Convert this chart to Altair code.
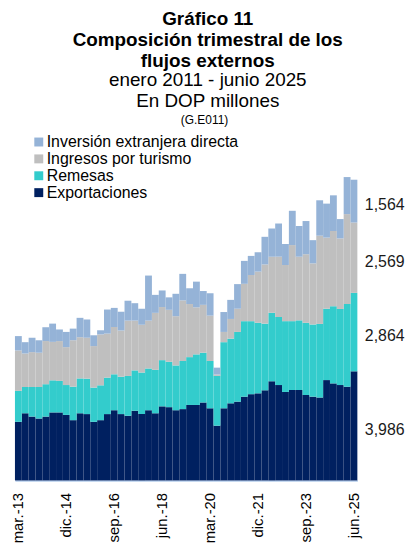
import altair as alt
import pandas as pd

# Quarter labels (mar.-13 ... jun.-25)
meses = ["mar.", "jun.", "sep.", "dic."]
trimestres = [f"{meses[i % 4]}-{13 + i // 4:02d}" for i in range(50)]
etiquetas_eje = [trimestres[i] for i in range(0, 50, 7)]

series = ["Inversión extranjera directa", "Ingresos por turismo", "Remesas", "Exportaciones"]
colores = ["#95B3D7", "#BFBFBF", "#33CCCC", "#002060"]
orden_pila = {"Exportaciones": 0, "Remesas": 1, "Ingresos por turismo": 2, "Inversión extranjera directa": 3}

exportaciones = [2141, 2454, 2333, 2262, 2333, 2485, 2485, 2394, 2202, 2454, 2424, 2141, 2202, 2424, 2565,
                 2424, 2363, 2545, 2424, 2565, 2454, 2707, 2677, 2565, 2606, 2757, 2757, 2848, 2636, 2000,
                 2636, 2818, 2879, 3060, 3151, 3182, 3293, 3626, 3485, 3232, 3303, 3303, 3121, 3060, 3030,
                 3666, 3545, 3485, 3424, 3986]
remesas = [1131, 960, 1081, 1151, 1182, 1172, 1151, 1091, 1222, 1273, 1293, 1252, 1273, 1333, 1313,
           1364, 1454, 1475, 1515, 1525, 1586, 1687, 1656, 1636, 1757, 1747, 1848, 1818, 1727, 1818,
           2414, 2363, 2545, 2757, 2666, 2576, 2434, 2495, 2485, 2586, 2515, 2545, 2636, 2636, 2687,
           2606, 2818, 2778, 3020, 2864]
turismo = [1475, 1222, 1273, 1252, 1576, 1404, 1454, 1384, 1697, 1505, 1495, 1515, 1858, 1606, 1727,
           1687, 2020, 1818, 1747, 1747, 2081, 1939, 1899, 1798, 2212, 1939, 1717, 1747, 1656, 50,
           374, 717, 848, 1364, 1687, 1869, 2161, 2050, 2202, 2050, 2778, 2323, 2505, 2232, 3222,
           2596, 2747, 2576, 3283, 2569]
ied = [525, 414, 525, 455, 505, 667, 424, 556, 424, 707, 667, 394, 152, 879, 697,
       687, 727, 636, 586, 1646, 657, 606, 455, 818, 970, 576, 939, 505, 818, 252,
       727, 697, 899, 838, 697, 707, 1010, 1030, 1212, 768, 1252, 1121, 1212, 848, 1293,
       1242, 1303, 707, 1353, 1564]

valores = {
    "Exportaciones": exportaciones,
    "Remesas": remesas,
    "Ingresos por turismo": turismo,
    "Inversión extranjera directa": ied,
}
filas = []
for s, vals in valores.items():
    for q, v in zip(trimestres, vals):
        filas.append({"q": q, "serie": s, "valor": v, "ord": orden_pila[s]})
df = pd.DataFrame(filas)

FONT = "Liberation Sans"
xscale = alt.Scale(domain=trimestres, paddingInner=0, paddingOuter=0)
yscale = alt.Scale(domain=[0, 12650], nice=False, zero=True)

base = alt.Chart(df)

barras = base.mark_bar().encode(
    x=alt.X("q:N", scale=xscale, title=None,
            axis=alt.Axis(values=etiquetas_eje, labelAngle=270, ticks=False, labelPadding=12,
                          labelFontSize=15, labelFont=FONT, labelColor="black",
                          domainColor="#c6d9f0", domainWidth=2, grid=False)),
    y=alt.Y("valor:Q", stack="zero", scale=yscale, axis=None),
    color=alt.Color("serie:N", scale=alt.Scale(domain=series, range=colores),
                    legend=alt.Legend(orient="none", legendX=16, legendY=0, title=None,
                                      symbolType="square", symbolSize=81, symbolStrokeWidth=0,
                                      labelFontSize=16, labelFont=FONT, labelColor="black",
                                      labelLimit=400, rowPadding=1, labelOffset=0, padding=0)),
    order=alt.Order("ord:Q", sort="ascending"),
)

ultimo = trimestres[-1]
etiquetas = base.transform_filter(
    alt.datum.q == ultimo
).transform_stack(
    stack="valor", groupby=["q"], as_=["v0", "v1"], sort=[alt.SortField("ord", "ascending")]
).transform_calculate(
    mid="(datum.v0 + datum.v1) / 2"
).mark_text(align="left", baseline="middle", dx=11, dy=4, fontSize=16, font=FONT, color="#1a1a1a").encode(
    x=alt.X("q:N", scale=xscale),
    y=alt.Y("mid:Q", scale=yscale),
    text=alt.Text("valor:Q", format=","),
)

codigo = alt.Chart(pd.DataFrame({"t": ["(G.E011)"]})).mark_text(
    fontSize=12, font=FONT, color="black", align="center", baseline="alphabetic"
).encode(x=alt.value(191), y=alt.value(-10), text="t:N")

chart = alt.layer(barras, etiquetas, codigo).properties(
    width=345, height=349,
    padding={"left": 2, "top": 0, "right": 0, "bottom": 0},
    title=alt.TitleParams(
        text=["Gráfico 11", "Composición trimestral de los", "flujos externos"],
        subtitle=["enero 2011 - junio 2025", "En DOP millones"],
        font=FONT, fontSize=19, fontWeight="bold", lineHeight=21, color="black",
        subtitleFont=FONT, subtitleFontSize=19, subtitleFontWeight="normal",
        subtitleLineHeight=21, subtitleColor="black", subtitlePadding=1,
        anchor="middle", frame="bounds", offset=3,
    ),
).configure_view(stroke=None)

chart.save("out.html", embed_options={"renderer": "svg", "actions": False})
